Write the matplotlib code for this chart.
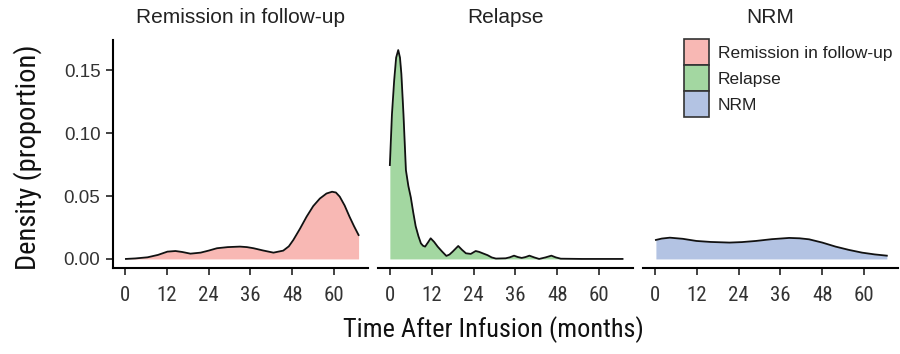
import numpy as np
import matplotlib
matplotlib.use("Agg")
import matplotlib.pyplot as plt
from matplotlib.patches import Patch
from matplotlib import font_manager
from matplotlib.font_manager import FontProperties

# Density estimates of event times, one curve per outcome
remission_months = [0.3, 3.0, 6.5, 9.5, 12.2, 14.5, 16.5, 18.8, 21.7, 24.0, 26.4, 29.5,
                    33.0, 35.0, 36.9, 39.5, 42.6, 45.4, 47.0, 48.3, 50.2, 52.1, 54.0,
                    55.9, 57.8, 59.4, 60.5, 61.6, 63.0, 64.4, 65.7, 67.0]
remission_density = [0.0, 0.0004, 0.0013, 0.0032, 0.0058, 0.0063, 0.0055, 0.0042, 0.0050,
                     0.0066, 0.0085, 0.0094, 0.0098, 0.0094, 0.0085, 0.0068, 0.0050,
                     0.0066, 0.0100, 0.0151, 0.0240, 0.0336, 0.0420, 0.0480, 0.0520,
                     0.0534, 0.0528, 0.0495, 0.0425, 0.0336, 0.0260, 0.0190]

relapse_months = [0.0, 0.6, 1.24, 1.8, 2.4, 2.9, 3.3, 3.9, 4.6, 5.3, 6.0, 6.7, 7.4, 8.2,
                  8.9, 9.5, 10.1, 10.9, 11.7, 12.7, 13.7, 15.0, 16.2, 17.1, 18.0, 19.6,
                  20.7, 21.8, 23.2, 24.6, 25.6, 26.6, 28.0, 29.2, 30.4, 33.2, 34.4,
                  35.6, 36.7, 37.8, 38.9, 40.0, 41.4, 42.8, 44.6, 46.3, 47.6, 49.0,
                  55.0, 60.0, 66.7]
relapse_density = [0.0746, 0.115, 0.142, 0.160, 0.166, 0.160, 0.147, 0.115, 0.0706, 0.058,
                   0.049, 0.037, 0.026, 0.018, 0.0124, 0.0105, 0.0098, 0.0130, 0.0164,
                   0.0135, 0.0098, 0.0058, 0.0024, 0.0035, 0.0058, 0.0103, 0.0072,
                   0.0045, 0.0040, 0.0063, 0.0056, 0.0045, 0.0030, 0.0012, 0.0003,
                   0.0005, 0.0013, 0.0026, 0.0015, 0.0008, 0.0015, 0.0026, 0.0012, 0.0,
                   0.0012, 0.0026, 0.0012, 0.0002, 0.0, 0.0, 0.0]

nrm_months = [0.3, 2.0, 4.3, 8.0, 11.9, 16.0, 21.4, 25.0, 29.0, 33.5, 38.5, 41.5, 44.2,
              48.0, 51.8, 55.6, 59.4, 63.0, 66.5]
nrm_density = [0.0151, 0.0162, 0.0169, 0.0160, 0.0143, 0.0135, 0.0130, 0.0134, 0.0143,
               0.0157, 0.0167, 0.0164, 0.0156, 0.0130, 0.0098, 0.0072, 0.0050, 0.0036,
               0.0026]

outcomes = ["Remission in follow-up", "Relapse", "NRM"]
fill_colors = ["#F8B8B4", "#A3D7A1", "#B3C3E3"]
x_ticks = [0, 12, 24, 36, 48, 60]
y_ticks = [0.00, 0.05, 0.10, 0.15]
y_tick_labels = ["0.00", "0.05", "0.10", "0.15"]

series = [(remission_months, remission_density),
          (relapse_months, relapse_density),
          (nrm_months, nrm_density)]

plt.rcParams["font.family"] = ["Liberation Sans", "DejaVu Sans"]


def narrow_font(size):
    """Pick a condensed sans face for the axis texts, if one is installed."""
    fonts = font_manager.fontManager.ttflist
    wanted = ["Liberation Sans Narrow", "Roboto Condensed", "Open Sans Condensed",
              "DejaVu Sans"]
    for fam in wanted:
        for f in fonts:
            if f.name == fam and f.style == "normal" and f.weight in (400, "normal") \
                    and ("ondensed" in str(f.stretch) or "Narrow" in f.name
                         or "Condensed" in f.name or "Condensed" in f.fname):
                return FontProperties(fname=f.fname, size=size)
    for f in fonts:
        if ("Condensed" in f.fname or "Narrow" in f.fname) and "Bold" not in f.fname \
                and "Oblique" not in f.fname and "Italic" not in f.fname:
            return FontProperties(fname=f.fname, size=size)
    return FontProperties(family="Liberation Sans", size=size * 0.85)


W, H = 900, 354
fig = plt.figure(figsize=(W / 100, H / 100), dpi=100)

panel_left = [113, 378, 643]
panel_width = 255
top_px, bottom_px = 40, 268
text_color = "#333333"

tick_fp = narrow_font(15)
xtitle_fp = narrow_font(18.9)
ytitle_fp = narrow_font(20.5)

for i, (name, color, (mx, dy)) in enumerate(zip(outcomes, fill_colors, series)):
    ax = fig.add_axes([panel_left[i] / W, 1 - bottom_px / H,
                       panel_width / W, (bottom_px - top_px) / H])
    ax.fill_between(mx, 0, dy, color=color, linewidth=0)
    ax.plot(mx, dy, color="#111111", linewidth=1.3)
    ax.set_xlim(-3.4, 69.7)
    ax.set_ylim(-0.0072, 0.174)
    ax.set_xticks(x_ticks)
    ax.set_xticklabels([str(t) for t in x_ticks], fontproperties=tick_fp,
                       color=text_color)
    for s in ["top", "right"]:
        ax.spines[s].set_visible(False)
    ax.spines["bottom"].set_linewidth(1.5)
    ax.spines["left"].set_linewidth(1.5)
    ax.tick_params(axis="x", length=5, width=1.2, color="#222222", pad=8)
    if i == 0:
        ax.set_yticks(y_ticks)
        ax.set_yticklabels(y_tick_labels, fontsize=13.5, color=text_color)
        ax.tick_params(axis="y", length=5, width=1.2, color="#222222", pad=4)
    else:
        ax.spines["left"].set_visible(False)
        ax.set_yticks([])
    ax.set_title(name, fontsize=15, color="#222222", pad=12)
    ax.patch.set_alpha(0)

fig.text(493 / W, 1 - 330 / H, "Time After Infusion (months)", fontproperties=xtitle_fp,
         color="#111111", ha="center", va="center")
fig.text(28 / W, 1 - 157 / H, "Density (proportion)", fontproperties=ytitle_fp,
         color="#111111", ha="center", va="center", rotation=90)

handles = [Patch(facecolor=c, edgecolor="#333333", linewidth=1.2) for c in fill_colors]
fig.legend(handles, outcomes, loc="upper left", bbox_to_anchor=(684 / W, 1 - 39 / H),
           frameon=False, fontsize=12.5, handlelength=1.43, handleheight=1.93,
           labelspacing=0.0, handletextpad=0.5, borderpad=0, borderaxespad=0,
           labelcolor="#222222")

fig.savefig("out.png", dpi=100)
